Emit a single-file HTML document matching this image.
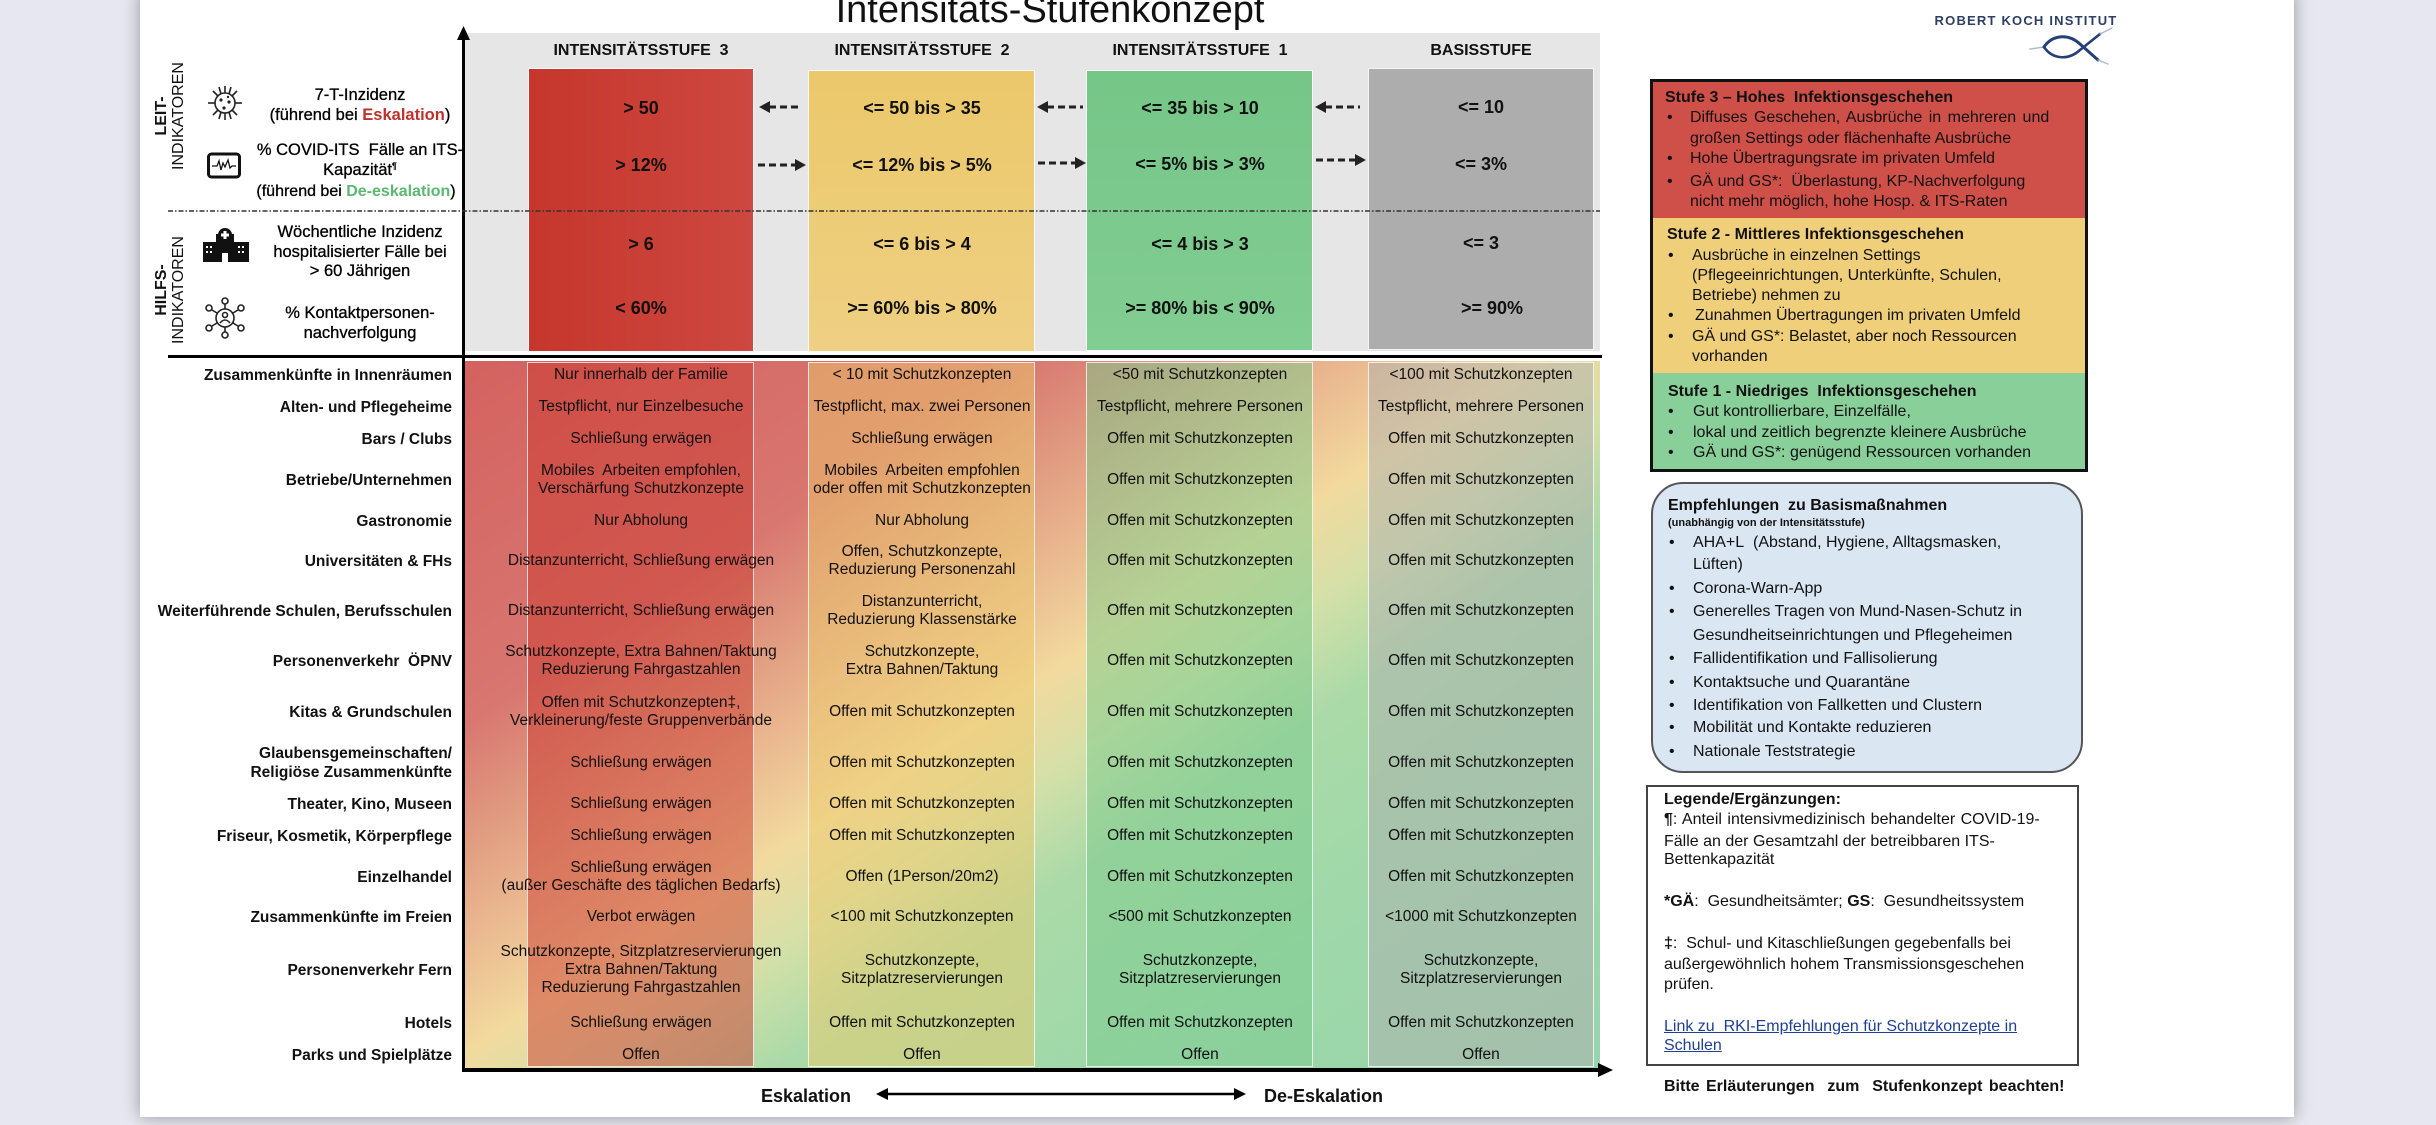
<!DOCTYPE html>
<html>
<head>
<meta charset="utf-8">
<style>
html,body{margin:0;padding:0;}
body{width:2436px;height:1125px;position:relative;overflow:hidden;background:#e6e7f0;font-family:"Liberation Sans",Arial,sans-serif;color:#111;}
.a{position:absolute;}
.c{position:absolute;text-align:center;white-space:nowrap;}
.l{position:absolute;text-align:left;white-space:nowrap;}
.r{position:absolute;text-align:right;white-space:nowrap;}
.hv{font-weight:bold;font-size:18px;line-height:22px;width:300px;}
.hl{font-weight:bold;font-size:16px;line-height:20px;width:300px;}
.ind{font-size:16.5px;line-height:20px;width:320px;left:200px;color:#000;-webkit-text-stroke:0.3px #000;}
.lab{font-weight:bold;font-size:15.5px;line-height:19px;left:132px;width:320px;}
.cell{font-size:15.5px;line-height:18px;width:340px;}
.c3{left:471px;} .c2{left:752px;} .c1{left:1030px;} .cb{left:1311px;}
.rp{font-size:16px;line-height:20px;}
.b{font-weight:bold;}
.bul{position:absolute;font-size:16px;line-height:20px;}
</style>
</head>
<body>
<!-- page -->
<div class="a" style="left:140px;top:-10px;width:2154px;height:1127px;background:#fff;box-shadow:0 0 16px rgba(0,0,0,0.35);"></div>

<!-- header gray -->
<div class="a" style="left:465px;top:33px;width:1135px;height:318px;background:#e6e6e6;"></div>
<!-- header columns -->
<div class="a" style="left:528px;top:68px;width:226px;height:284px;background:linear-gradient(90deg,#c6362c,#cd4840);border:1.5px solid #fafafa;box-sizing:border-box;"></div>
<div class="a" style="left:808px;top:70px;width:227px;height:282px;background:linear-gradient(180deg,#ebc86a,#efd083);border:1.5px solid #fafafa;box-sizing:border-box;"></div>
<div class="a" style="left:1086px;top:70px;width:227px;height:281px;background:linear-gradient(180deg,#76c688,#82cd92);border:1.5px solid #fafafa;box-sizing:border-box;"></div>
<div class="a" style="left:1368px;top:68px;width:226px;height:282px;background:#adadad;border:1.5px solid #f4f4f4;box-sizing:border-box;"></div>

<!-- table background gradient -->
<div class="a" style="left:465px;top:361px;width:1135px;height:707px;background:linear-gradient(147deg,#d4625f 0%,#d87670 25%,#e09a80 33%,#eab890 40%,#f2da9e 48%,#d4e0a8 55%,#aadaa8 63%,#9ed8aa 80%,#98d4ac 100%);"></div>
<div class="a" style="left:527px;top:362px;width:227px;height:705px;background:rgba(201,57,47,0.5);border:1.5px solid rgba(255,255,255,0.75);box-sizing:border-box;"></div>
<div class="a" style="left:808px;top:362px;width:227px;height:705px;background:rgba(235,201,107,0.5);border:1.5px solid rgba(255,255,255,0.75);box-sizing:border-box;"></div>
<div class="a" style="left:1086px;top:362px;width:227px;height:705px;background:rgba(121,201,139,0.5);border:1.5px solid rgba(255,255,255,0.75);box-sizing:border-box;"></div>
<div class="a" style="left:1368px;top:362px;width:226px;height:705px;background:rgba(173,173,173,0.5);border:1.5px solid rgba(255,255,255,0.75);box-sizing:border-box;"></div>

<!-- right panel: stufe box -->
<div class="a" style="left:1650px;top:79px;width:438px;height:393px;background:#111;"></div>
<div class="a" style="left:1653px;top:82px;width:432px;height:136px;background:#cf4f49;"></div>
<div class="a" style="left:1653px;top:218px;width:432px;height:155px;background:#efcf7a;"></div>
<div class="a" style="left:1653px;top:373px;width:432px;height:96px;background:#89cf99;"></div>

<!-- Empfehlungen box -->
<div class="a" style="left:1651px;top:482px;width:432px;height:291px;background:#dbe6f3;border:2.5px solid #555;border-radius:32px;box-sizing:border-box;"></div>
<!-- Legende box -->
<div class="a" style="left:1646px;top:785px;width:433px;height:281px;background:#fff;border:2px solid #444;box-sizing:border-box;"></div>

<!-- SVG overlay -->
<svg class="a" style="left:0;top:0;" width="2436" height="1125" xmlns="http://www.w3.org/2000/svg">
  <rect x="462" y="36" width="3" height="1036" fill="#000"/>
  <polygon points="463.5,26 457,40 470,40" fill="#000"/>
  <rect x="462" y="1068" width="1140" height="4" fill="#000"/>
  <polygon points="1613,1070 1598,1063 1598,1077" fill="#000"/>
  <rect x="168" y="355" width="1434" height="3" fill="#000"/>
  <line x1="168" y1="211" x2="1600" y2="211" stroke="#333" stroke-width="1.5" stroke-dasharray="5 2 1.5 2"/>
  <g stroke="#222" stroke-width="3" stroke-dasharray="7 4" fill="none">
    <line x1="769" y1="107" x2="802" y2="107"/>
    <line x1="758" y1="165" x2="795" y2="165"/>
    <line x1="1047" y1="107" x2="1083" y2="107"/>
    <line x1="1038" y1="163" x2="1075" y2="163"/>
    <line x1="1325" y1="107" x2="1360" y2="107"/>
    <line x1="1316" y1="160" x2="1355" y2="160"/>
  </g>
  <g fill="#222">
    <polygon points="759,107 770,101 770,113"/>
    <polygon points="806,165 795,159 795,171"/>
    <polygon points="1037,107 1048,101 1048,113"/>
    <polygon points="1086,163 1075,157 1075,169"/>
    <polygon points="1315,107 1326,101 1326,113"/>
    <polygon points="1366,160 1355,154 1355,166"/>
  </g>
  <line x1="886" y1="1094" x2="1236" y2="1094" stroke="#000" stroke-width="2.5"/>
  <polygon points="876,1094 888,1088 888,1100" fill="#000"/>
  <polygon points="1246,1094 1234,1088 1234,1100" fill="#000"/>

  <g stroke="#222" stroke-width="1.6" fill="none">
    <circle cx="225" cy="103" r="10"/>
    <line x1="225" y1="93" x2="225" y2="86"/><line x1="225" y1="113" x2="225" y2="120"/>
    <line x1="215" y1="103" x2="208" y2="103"/><line x1="235" y1="103" x2="242" y2="103"/>
    <line x1="218" y1="96" x2="213" y2="91"/><line x1="232" y1="96" x2="237" y2="91"/>
    <line x1="218" y1="110" x2="213" y2="115"/><line x1="232" y1="110" x2="237" y2="115"/>
    <line x1="221" y1="94" x2="219" y2="87"/><line x1="229" y1="94" x2="231" y2="87"/>
    <line x1="221" y1="112" x2="219" y2="119"/><line x1="229" y1="112" x2="231" y2="119"/>
  </g>
  <g fill="#222"><circle cx="221" cy="100" r="1.6"/><circle cx="229" cy="102" r="1.6"/><circle cx="224" cy="108" r="1.6"/><circle cx="228" cy="97" r="1.2"/></g>
  <rect x="208.5" y="154" width="31" height="23" rx="3" stroke="#111" stroke-width="3" fill="none"/>
  <polyline points="212,166 217,166 219,161 221,170 223,163 225,167 228,160 230,168 232,166 236,166" stroke="#111" stroke-width="1.3" fill="none"/>
  <g fill="#111">
    <rect x="216" y="234" width="18" height="28"/>
    <rect x="203" y="242" width="13" height="20"/>
    <rect x="234" y="242" width="15" height="20"/>
    <circle cx="225" cy="235" r="7"/>
  </g>
  <g fill="#fff">
    <rect x="223.5" y="231" width="3" height="8"/><rect x="221" y="233.5" width="8" height="3"/>
    <rect x="222" y="253" width="6" height="9"/>
    <rect x="206" y="246" width="2" height="2"/><rect x="210" y="246" width="2" height="2"/>
    <rect x="206" y="251" width="2" height="2"/><rect x="210" y="251" width="2" height="2"/>
    <rect x="238" y="246" width="2" height="2"/><rect x="242" y="246" width="2" height="2"/>
    <rect x="238" y="251" width="2" height="2"/><rect x="242" y="251" width="2" height="2"/>
  </g>
  <g stroke="#222" stroke-width="1.6" fill="none">
    <circle cx="225" cy="318" r="9"/>
    <circle cx="225" cy="315" r="2.5"/>
    <path d="M220,323 Q225,317 230,323"/>
    <line x1="225" y1="309" x2="225" y2="304"/><circle cx="225" cy="301" r="3"/>
    <line x1="225" y1="327" x2="225" y2="332"/><circle cx="225" cy="335" r="3"/>
    <line x1="217" y1="313" x2="212" y2="310"/><circle cx="209" cy="308" r="3"/>
    <line x1="233" y1="313" x2="238" y2="310"/><circle cx="241" cy="308" r="3"/>
    <line x1="217" y1="323" x2="212" y2="326"/><circle cx="209" cy="328" r="3"/>
    <line x1="233" y1="323" x2="238" y2="326"/><circle cx="241" cy="328" r="3"/>
  </g>
  <g fill="none" stroke-linecap="round">
    <path d="M2030,49 L2044,47" stroke="#a9b9d6" stroke-width="1.5"/>
    <path d="M2044,47 C2052,35 2068,33 2080,44 L2098,60" stroke="#24407a" stroke-width="3"/>
    <path d="M2044,47 C2052,59 2068,61 2080,50 L2100,34" stroke="#24407a" stroke-width="2.6"/>
    <path d="M2100,34 L2112,28" stroke="#a9b9d6" stroke-width="1.3"/>
    <path d="M2098,60 L2108,64" stroke="#a9b9d6" stroke-width="1.3"/>
  </g>
</svg>

<!-- Title -->
<div class="c" style="left:800px;top:-9px;width:500px;font-size:38px;line-height:38px;">Intensitäts-Stufenkonzept</div>
<!-- RKI -->
<div class="c" style="left:1926px;top:13px;width:200px;font-size:13px;line-height:16px;font-weight:bold;letter-spacing:1.2px;color:#2e3f63;">ROBERT KOCH INSTITUT</div>

<!-- Rotated labels -->
<div class="a" style="left:116px;top:98px;width:110px;height:36px;transform:rotate(-90deg);transform-origin:center;text-align:center;font-size:16px;line-height:17px;">
<b>LEIT-</b><br>INDIKATOREN</div>
<div class="a" style="left:116px;top:272px;width:110px;height:36px;transform:rotate(-90deg);transform-origin:center;text-align:center;font-size:16px;line-height:17px;">
<b>HILFS-</b><br>INDIKATOREN</div>

<!-- Indicator texts -->
<div class="c ind" style="top:85px;">7-T-Inzidenz</div>
<div class="c ind" style="top:105px;">(führend bei <b style="color:#c0302a;-webkit-text-stroke:0;">Eskalation</b>)</div>
<div class="c ind" style="top:140px;">% COVID-ITS&nbsp; Fälle an ITS-</div>
<div class="c ind" style="top:160px;">Kapazität<span style="font-size:9px;position:relative;top:-6px;">¶</span></div>
<div class="c ind" style="top:182px;font-size:16px;left:196px;">(führend bei <b style="color:#5cb870;-webkit-text-stroke:0;">De-eskalation</b>)</div>
<div class="c ind" style="top:222px;">Wöchentliche Inzidenz</div>
<div class="c ind" style="top:242px;">hospitalisierter Fälle bei</div>
<div class="c ind" style="top:261px;">&gt; 60 Jährigen</div>
<div class="c ind" style="top:303px;">% Kontaktpersonen-</div>
<div class="c ind" style="top:323px;">nachverfolgung</div>

<!-- Header labels -->
<div class="c hl" style="left:491px;top:41px;">INTENSITÄTSSTUFE&nbsp; 3</div>
<div class="c hl" style="left:772px;top:41px;">INTENSITÄTSSTUFE&nbsp; 2</div>
<div class="c hl" style="left:1050px;top:41px;">INTENSITÄTSSTUFE&nbsp; 1</div>
<div class="c hl" style="left:1331px;top:41px;">BASISSTUFE</div>

<!-- Header values -->
<div class="c hv" style="left:491px;top:97px;">&gt; 50</div>
<div class="c hv" style="left:491px;top:154px;">&gt; 12%</div>
<div class="c hv" style="left:491px;top:233px;">&gt; 6</div>
<div class="c hv" style="left:491px;top:297px;">&lt; 60%</div>
<div class="c hv" style="left:772px;top:97px;">&lt;= 50 bis &gt; 35</div>
<div class="c hv" style="left:772px;top:154px;">&lt;= 12% bis &gt; 5%</div>
<div class="c hv" style="left:772px;top:233px;">&lt;= 6 bis &gt; 4</div>
<div class="c hv" style="left:772px;top:297px;">&gt;= 60% bis &gt; 80%</div>
<div class="c hv" style="left:1050px;top:97px;">&lt;= 35 bis &gt; 10</div>
<div class="c hv" style="left:1050px;top:153px;">&lt;= 5% bis &gt; 3%</div>
<div class="c hv" style="left:1050px;top:233px;">&lt;= 4 bis &gt; 3</div>
<div class="c hv" style="left:1050px;top:297px;">&gt;= 80% bis &lt; 90%</div>
<div class="c hv" style="left:1331px;top:96px;">&lt;= 10</div>
<div class="c hv" style="left:1331px;top:153px;">&lt;= 3%</div>
<div class="c hv" style="left:1331px;top:232px;">&lt;= 3</div>
<div class="c hv" style="left:1342px;top:297px;">&gt;= 90%</div>

<!-- Table rows -->
<div class="r lab" style="top:366px;">Zusammenkünfte in Innenräumen</div>
<div class="c cell c3" style="top:366px;">Nur innerhalb der Familie</div>
<div class="c cell c2" style="top:366px;">&lt; 10 mit Schutzkonzepten</div>
<div class="c cell c1" style="top:366px;">&lt;50 mit Schutzkonzepten</div>
<div class="c cell cb" style="top:366px;">&lt;100 mit Schutzkonzepten</div>

<div class="r lab" style="top:398px;">Alten- und Pflegeheime</div>
<div class="c cell c3" style="top:398px;">Testpflicht, nur Einzelbesuche</div>
<div class="c cell c2" style="top:398px;">Testpflicht, max. zwei Personen</div>
<div class="c cell c1" style="top:398px;">Testpflicht, mehrere Personen</div>
<div class="c cell cb" style="top:398px;">Testpflicht, mehrere Personen</div>

<div class="r lab" style="top:430px;">Bars / Clubs</div>
<div class="c cell c3" style="top:430px;">Schließung erwägen</div>
<div class="c cell c2" style="top:430px;">Schließung erwägen</div>
<div class="c cell c1" style="top:430px;">Offen mit Schutzkonzepten</div>
<div class="c cell cb" style="top:430px;">Offen mit Schutzkonzepten</div>

<div class="r lab" style="top:471px;">Betriebe/Unternehmen</div>
<div class="c cell c3" style="top:462px;">Mobiles&nbsp; Arbeiten empfohlen,<br>Verschärfung Schutzkonzepte</div>
<div class="c cell c2" style="top:462px;">Mobiles&nbsp; Arbeiten empfohlen<br>oder offen mit Schutzkonzepten</div>
<div class="c cell c1" style="top:471px;">Offen mit Schutzkonzepten</div>
<div class="c cell cb" style="top:471px;">Offen mit Schutzkonzepten</div>

<div class="r lab" style="top:512px;">Gastronomie</div>
<div class="c cell c3" style="top:512px;">Nur Abholung</div>
<div class="c cell c2" style="top:512px;">Nur Abholung</div>
<div class="c cell c1" style="top:512px;">Offen mit Schutzkonzepten</div>
<div class="c cell cb" style="top:512px;">Offen mit Schutzkonzepten</div>

<div class="r lab" style="top:552px;">Universitäten &amp; FHs</div>
<div class="c cell c3" style="top:552px;">Distanzunterricht, Schließung erwägen</div>
<div class="c cell c2" style="top:543px;">Offen, Schutzkonzepte,<br>Reduzierung Personenzahl</div>
<div class="c cell c1" style="top:552px;">Offen mit Schutzkonzepten</div>
<div class="c cell cb" style="top:552px;">Offen mit Schutzkonzepten</div>

<div class="r lab" style="top:602px;">Weiterführende Schulen, Berufsschulen</div>
<div class="c cell c3" style="top:602px;">Distanzunterricht, Schließung erwägen</div>
<div class="c cell c2" style="top:593px;">Distanzunterricht,<br>Reduzierung Klassenstärke</div>
<div class="c cell c1" style="top:602px;">Offen mit Schutzkonzepten</div>
<div class="c cell cb" style="top:602px;">Offen mit Schutzkonzepten</div>

<div class="r lab" style="top:652px;">Personenverkehr&nbsp; ÖPNV</div>
<div class="c cell c3" style="top:643px;">Schutzkonzepte, Extra Bahnen/Taktung<br>Reduzierung Fahrgastzahlen</div>
<div class="c cell c2" style="top:643px;">Schutzkonzepte,<br>Extra Bahnen/Taktung</div>
<div class="c cell c1" style="top:652px;">Offen mit Schutzkonzepten</div>
<div class="c cell cb" style="top:652px;">Offen mit Schutzkonzepten</div>

<div class="r lab" style="top:703px;">Kitas &amp; Grundschulen</div>
<div class="c cell c3" style="top:694px;">Offen mit Schutzkonzepten‡,<br>Verkleinerung/feste Gruppenverbände</div>
<div class="c cell c2" style="top:703px;">Offen mit Schutzkonzepten</div>
<div class="c cell c1" style="top:703px;">Offen mit Schutzkonzepten</div>
<div class="c cell cb" style="top:703px;">Offen mit Schutzkonzepten</div>

<div class="r lab" style="top:744px;">Glaubensgemeinschaften/<br>Religiöse Zusammenkünfte</div>
<div class="c cell c3" style="top:754px;">Schließung erwägen</div>
<div class="c cell c2" style="top:754px;">Offen mit Schutzkonzepten</div>
<div class="c cell c1" style="top:754px;">Offen mit Schutzkonzepten</div>
<div class="c cell cb" style="top:754px;">Offen mit Schutzkonzepten</div>

<div class="r lab" style="top:795px;">Theater, Kino, Museen</div>
<div class="c cell c3" style="top:795px;">Schließung erwägen</div>
<div class="c cell c2" style="top:795px;">Offen mit Schutzkonzepten</div>
<div class="c cell c1" style="top:795px;">Offen mit Schutzkonzepten</div>
<div class="c cell cb" style="top:795px;">Offen mit Schutzkonzepten</div>

<div class="r lab" style="top:827px;">Friseur, Kosmetik, Körperpflege</div>
<div class="c cell c3" style="top:827px;">Schließung erwägen</div>
<div class="c cell c2" style="top:827px;">Offen mit Schutzkonzepten</div>
<div class="c cell c1" style="top:827px;">Offen mit Schutzkonzepten</div>
<div class="c cell cb" style="top:827px;">Offen mit Schutzkonzepten</div>

<div class="r lab" style="top:868px;">Einzelhandel</div>
<div class="c cell c3" style="top:859px;">Schließung erwägen<br>(außer Geschäfte des täglichen Bedarfs)</div>
<div class="c cell c2" style="top:868px;">Offen (1Person/20m2)</div>
<div class="c cell c1" style="top:868px;">Offen mit Schutzkonzepten</div>
<div class="c cell cb" style="top:868px;">Offen mit Schutzkonzepten</div>

<div class="r lab" style="top:908px;">Zusammenkünfte im Freien</div>
<div class="c cell c3" style="top:908px;">Verbot erwägen</div>
<div class="c cell c2" style="top:908px;">&lt;100 mit Schutzkonzepten</div>
<div class="c cell c1" style="top:908px;">&lt;500 mit Schutzkonzepten</div>
<div class="c cell cb" style="top:908px;">&lt;1000 mit Schutzkonzepten</div>

<div class="r lab" style="top:961px;">Personenverkehr Fern</div>
<div class="c cell c3" style="top:943px;">Schutzkonzepte, Sitzplatzreservierungen<br>Extra Bahnen/Taktung<br>Reduzierung Fahrgastzahlen</div>
<div class="c cell c2" style="top:952px;">Schutzkonzepte,<br>Sitzplatzreservierungen</div>
<div class="c cell c1" style="top:952px;">Schutzkonzepte,<br>Sitzplatzreservierungen</div>
<div class="c cell cb" style="top:952px;">Schutzkonzepte,<br>Sitzplatzreservierungen</div>

<div class="r lab" style="top:1014px;">Hotels</div>
<div class="c cell c3" style="top:1014px;">Schließung erwägen</div>
<div class="c cell c2" style="top:1014px;">Offen mit Schutzkonzepten</div>
<div class="c cell c1" style="top:1014px;">Offen mit Schutzkonzepten</div>
<div class="c cell cb" style="top:1014px;">Offen mit Schutzkonzepten</div>

<div class="r lab" style="top:1046px;">Parks und Spielplätze</div>
<div class="c cell c3" style="top:1046px;">Offen</div>
<div class="c cell c2" style="top:1046px;">Offen</div>
<div class="c cell c1" style="top:1046px;">Offen</div>
<div class="c cell cb" style="top:1046px;">Offen</div>

<!-- Bottom axis labels -->
<div class="l" style="left:761px;top:1085px;font-size:18px;line-height:22px;font-weight:bold;">Eskalation</div>
<div class="l" style="left:1264px;top:1085px;font-size:18px;line-height:22px;font-weight:bold;">De-Eskalation</div>

<!-- Right panel: Stufe 3 -->
<div class="l rp b" style="left:1665px;top:88px;">Stufe 3 – Hohes&nbsp; Infektionsgeschehen</div>
<div class="bul" style="left:1667px;top:108px;">•</div>
<div class="l rp" style="left:1690px;top:108px;word-spacing:2px;">Diffuses Geschehen, Ausbrüche in mehreren und</div>
<div class="l rp" style="left:1690px;top:129px;">großen Settings oder flächenhafte Ausbrüche</div>
<div class="bul" style="left:1667px;top:149px;">•</div>
<div class="l rp" style="left:1690px;top:149px;">Hohe Übertragungsrate im privaten Umfeld</div>
<div class="bul" style="left:1667px;top:172px;">•</div>
<div class="l rp" style="left:1690px;top:172px;">GÄ und GS*:&nbsp; Überlastung, KP-Nachverfolgung</div>
<div class="l rp" style="left:1690px;top:192px;">nicht mehr möglich, hohe Hosp. &amp; ITS-Raten</div>

<!-- Stufe 2 -->
<div class="l rp b" style="left:1667px;top:225px;">Stufe 2 - Mittleres Infektionsgeschehen</div>
<div class="bul" style="left:1668px;top:246px;">•</div>
<div class="l rp" style="left:1692px;top:246px;">Ausbrüche in einzelnen Settings</div>
<div class="l rp" style="left:1692px;top:266px;">(Pflegeeinrichtungen, Unterkünfte, Schulen,</div>
<div class="l rp" style="left:1692px;top:286px;">Betriebe) nehmen zu</div>
<div class="bul" style="left:1668px;top:306px;">•</div>
<div class="l rp" style="left:1695px;top:306px;">Zunahmen Übertragungen im privaten Umfeld</div>
<div class="bul" style="left:1668px;top:327px;">•</div>
<div class="l rp" style="left:1692px;top:327px;">GÄ und GS*: Belastet, aber noch Ressourcen</div>
<div class="l rp" style="left:1692px;top:347px;">vorhanden</div>

<!-- Stufe 1 -->
<div class="l rp b" style="left:1668px;top:382px;">Stufe 1 - Niedriges&nbsp; Infektionsgeschehen</div>
<div class="bul" style="left:1668px;top:402px;">•</div>
<div class="l rp" style="left:1693px;top:402px;">Gut kontrollierbare, Einzelfälle,</div>
<div class="bul" style="left:1668px;top:423px;">•</div>
<div class="l rp" style="left:1693px;top:423px;">lokal und zeitlich begrenzte kleinere Ausbrüche</div>
<div class="bul" style="left:1668px;top:443px;">•</div>
<div class="l rp" style="left:1693px;top:443px;">GÄ und GS*: genügend Ressourcen vorhanden</div>

<!-- Empfehlungen -->
<div class="l rp b" style="left:1668px;top:496px;">Empfehlungen&nbsp; zu Basismaßnahmen</div>
<div class="l b" style="left:1668px;top:516px;font-size:11px;line-height:14px;">(unabhängig von der Intensitätsstufe)</div>
<div class="bul" style="left:1669px;top:533px;">•</div>
<div class="l rp" style="left:1693px;top:533px;">AHA+L&nbsp; (Abstand, Hygiene, Alltagsmasken,</div>
<div class="l rp" style="left:1693px;top:555px;">Lüften)</div>
<div class="bul" style="left:1669px;top:579px;">•</div>
<div class="l rp" style="left:1693px;top:579px;">Corona-Warn-App</div>
<div class="bul" style="left:1669px;top:602px;">•</div>
<div class="l rp" style="left:1693px;top:602px;">Generelles Tragen von Mund-Nasen-Schutz in</div>
<div class="l rp" style="left:1693px;top:626px;">Gesundheitseinrichtungen und Pflegeheimen</div>
<div class="bul" style="left:1669px;top:649px;">•</div>
<div class="l rp" style="left:1693px;top:649px;">Fallidentifikation und Fallisolierung</div>
<div class="bul" style="left:1669px;top:673px;">•</div>
<div class="l rp" style="left:1693px;top:673px;">Kontaktsuche und Quarantäne</div>
<div class="bul" style="left:1669px;top:696px;">•</div>
<div class="l rp" style="left:1693px;top:696px;">Identifikation von Fallketten und Clustern</div>
<div class="bul" style="left:1669px;top:718px;">•</div>
<div class="l rp" style="left:1693px;top:718px;">Mobilität und Kontakte reduzieren</div>
<div class="bul" style="left:1669px;top:742px;">•</div>
<div class="l rp" style="left:1693px;top:742px;">Nationale Teststrategie</div>

<!-- Legende -->
<div class="l rp b" style="left:1664px;top:790px;">Legende/Ergänzungen:</div>
<div class="l rp" style="left:1664px;top:810px;word-spacing:1px;"><b>¶</b>: Anteil intensivmedizinisch behandelter COVID-19-</div>
<div class="l rp" style="left:1664px;top:832px;">Fälle an der Gesamtzahl der betreibbaren ITS-</div>
<div class="l rp" style="left:1664px;top:850px;">Bettenkapazität</div>
<div class="l rp" style="left:1664px;top:892px;"><b>*GÄ</b>:&nbsp; Gesundheitsämter; <b>GS</b>:&nbsp; Gesundheitssystem</div>
<div class="l rp" style="left:1664px;top:934px;"><b>‡</b>:&nbsp; Schul- und Kitaschließungen gegebenfalls bei</div>
<div class="l rp" style="left:1664px;top:955px;">außergewöhnlich hohem Transmissionsgeschehen</div>
<div class="l rp" style="left:1664px;top:975px;">prüfen.</div>
<div class="l rp" style="left:1664px;top:1017px;color:#1f3f94;text-decoration:underline;">Link zu&nbsp; RKI-Empfehlungen für Schutzkonzepte in</div>
<div class="l rp" style="left:1664px;top:1036px;color:#1f3f94;text-decoration:underline;">Schulen</div>

<div class="l rp b" style="left:1664px;top:1077px;word-spacing:2px;">Bitte Erläuterungen&nbsp; zum&nbsp; Stufenkonzept beachten!</div>

</body>
</html>
